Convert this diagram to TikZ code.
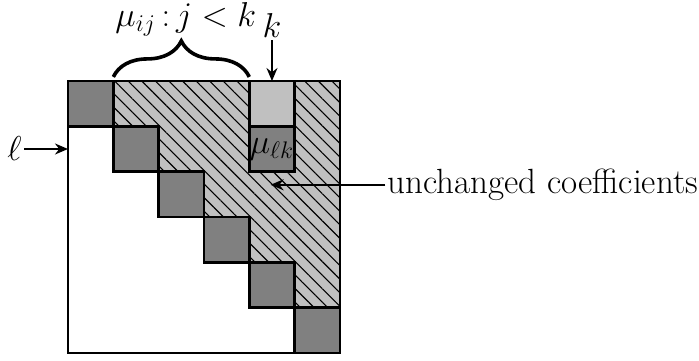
\documentclass[tikz,border=0pt]{standalone}
\usepackage{tikz}
\usetikzlibrary{arrows.meta,positioning,decorations.pathreplacing,patterns.meta}
\definecolor{darkcell}{HTML}{808080}
\definecolor{lightcell}{HTML}{C0C0C0}

\begin{document}
\begin{tikzpicture}[
  x=22.67pt, y=22.67pt,
  lbl/.style={font=\fontsize{17.5}{20}\selectfont, inner sep=1pt},
  diag/.style={draw, line width=1.4pt, fill=darkcell},
  hatch/.style={fill=lightcell, postaction={pattern={Lines[angle=-45, distance=4.8pt, line width=0.55pt]}}},
  arr/.style={-{Stealth[length=6.5pt, width=5.5pt]}, line width=0.9pt}
]
\useasboundingbox (-1.5,-6.155) rectangle (13.92,1.787);

% entries above the diagonal
\fill[hatch] (1,0) -| (6,-5) -| (5,-4) -| (4,-3) -| (3,-2) -| (2,-1) -| (1,0) -- cycle;

% diagonal blocks
\foreach \i in {0,...,5}
  \draw[diag] (\i,-\i) rectangle ++(1,-1);

% column k
\draw[line width=1.4pt, fill=lightcell] (4,0) rectangle (5,-1);
\draw[diag] (4,-1) rectangle (5,-2);
\node[lbl] (mulk) at (4.5,-1.5) {$\mu_{\ell k}$};

% whole matrix
\draw[line width=1.4pt] (0,0) rectangle (6,-6);

% labels
\coordinate (colk) at (4.5,0);
\coordinate (rowl) at (0,-1.5);
\coordinate (inner) at (4.47,-2.29);
\node[lbl] (k) at (4.5,1.22) {$k$};
\node[lbl] (l) at (-1.18,-1.5) {$\ell$};
\node[lbl, anchor=west] (unch) at (7.0,-2.29) {unchanged coefficients};
\node[lbl] (muij) at (2.6,1.36) {$\mu_{ij}\,{:}\,j<k$};

\draw[arr] (k) -- (colk);
\draw[arr] (l) -- (rowl);
\draw[arr] (unch.west) -- (inner);
\draw[decorate, decoration={brace, amplitude=18pt}, line width=1.8pt] (1,0.09) -- (4,0.09);
\end{tikzpicture}
\end{document}
